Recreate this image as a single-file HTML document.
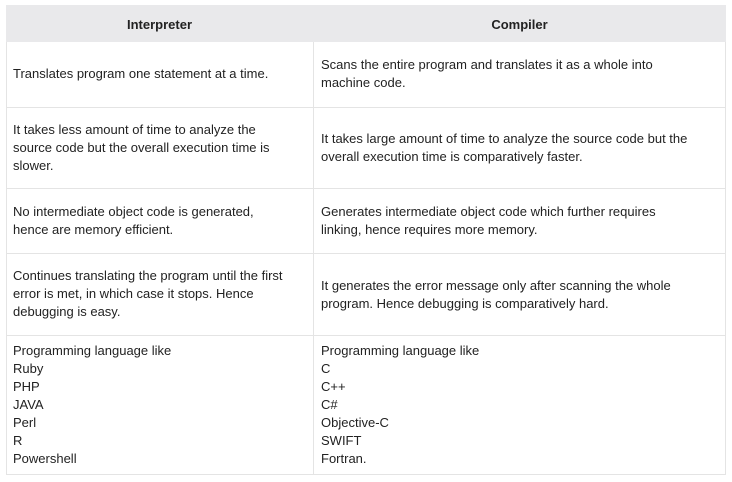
<!DOCTYPE html>
<html><head><style>
body{margin:0;background:#fff;width:732px;height:482px;position:relative;font-family:"Liberation Sans",sans-serif;font-size:13px;color:#222;}
.b{position:absolute;background:#e4e4e4;}
.t{position:absolute;line-height:18px;}
.h{position:absolute;font-weight:bold;font-size:13px;text-align:center;top:17px;}
</style></head><body>
<div style="position:absolute;left:6px;top:5px;width:720px;height:37px;background:#e9e9eb"></div>
<div class="h" style="left:6px;width:307px">Interpreter</div>
<div class="h" style="left:313px;width:413px">Compiler</div>
<div class="b" style="left:6px;top:42px;width:1px;height:433px"></div>
<div class="b" style="left:725px;top:42px;width:1px;height:433px"></div>
<div class="b" style="left:313px;top:42px;width:1px;height:433px"></div>
<div class="b" style="left:6px;top:107px;width:720px;height:1px"></div>
<div class="b" style="left:6px;top:188px;width:720px;height:1px"></div>
<div class="b" style="left:6px;top:253px;width:720px;height:1px"></div>
<div class="b" style="left:6px;top:335px;width:720px;height:1px"></div>
<div class="b" style="left:6px;top:474px;width:720px;height:1px"></div>

<div class="t" style="left:13px;top:65px">Translates program one statement at a time.</div>
<div class="t" style="left:321px;top:56px">Scans the entire program and translates it as a whole into<br>machine code.</div>

<div class="t" style="left:13px;top:121px">It takes less amount of time to analyze the<br>source code but the overall execution time is<br>slower.</div>
<div class="t" style="left:321px;top:130px">It takes large amount of time to analyze the source code but the<br>overall execution time is comparatively faster.</div>

<div class="t" style="left:13px;top:203px">No intermediate object code is generated,<br>hence are memory efficient.</div>
<div class="t" style="left:321px;top:203px">Generates intermediate object code which further requires<br>linking, hence requires more memory.</div>

<div class="t" style="left:13px;top:267px">Continues translating the program until the first<br>error is met, in which case it stops. Hence<br>debugging is easy.</div>
<div class="t" style="left:321px;top:277px">It generates the error message only after scanning the whole<br>program. Hence debugging is comparatively hard.</div>

<div class="t" style="left:13px;top:342px">Programming language like<br>Ruby<br>PHP<br>JAVA<br>Perl<br>R<br>Powershell</div>
<div class="t" style="left:321px;top:342px">Programming language like<br>C<br>C++<br>C#<br>Objective-C<br>SWIFT<br>Fortran.</div>
</body></html>
